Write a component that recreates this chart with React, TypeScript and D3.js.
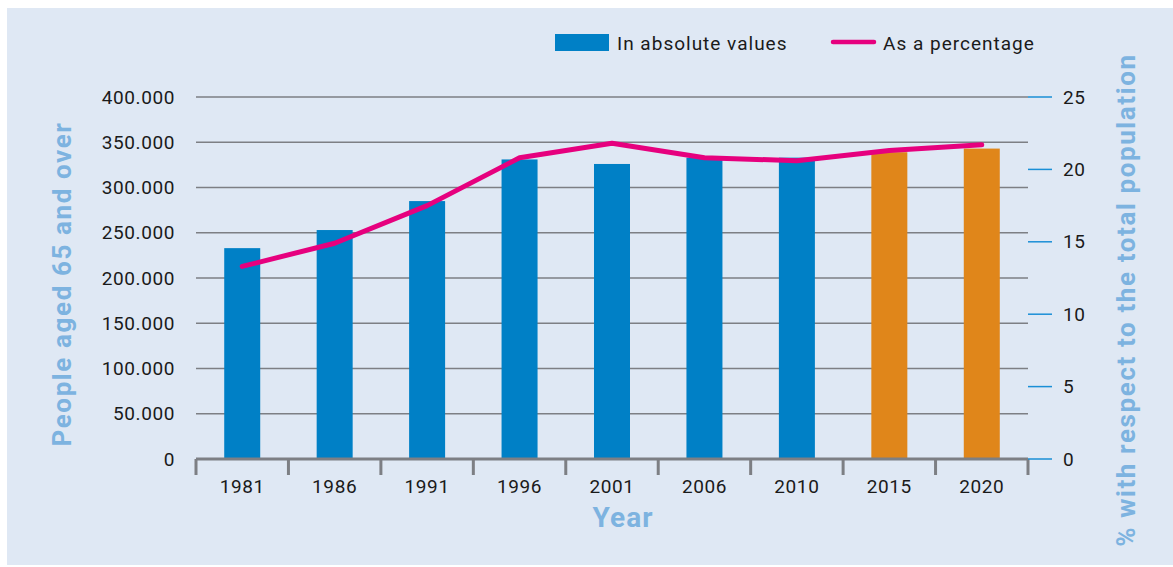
import React, { useEffect, useRef } from 'react';
import * as d3 from 'd3';

const years = ['1981', '1986', '1991', '1996', '2001', '2006', '2010', '2015', '2020'];
const absoluteValues = [233000, 253000, 285000, 331000, 326000, 333000, 333000, 339000, 343000];
const percentValues = [13.3, 14.9, 17.5, 20.8, 21.8, 20.8, 20.6, 21.3, 21.7];
const projected = ['2015', '2020'];
const leftTicks = [0, 50000, 100000, 150000, 200000, 250000, 300000, 350000, 400000];
const rightTicks = [0, 5, 10, 15, 20, 25];

const W = 1173;
const H = 567;
const margin = { top: 97, right: 145, bottom: 108, left: 196 };
const FONT = 'Roboto, "DejaVu Sans", sans-serif';

function fmtThousands(v: number) {
  if (v === 0) return '0';
  return d3.format(',')(v).replace(/,/g, '.');
}

export default function App() {
  const ref = useRef<SVGSVGElement>(null);

  useEffect(() => {
    const svg = d3.select(ref.current);
    svg.selectAll('*').remove();

    const width = W - margin.left - margin.right;
    const height = H - margin.top - margin.bottom;

    svg.append('rect')
      .attr('x', 7).attr('y', 8)
      .attr('width', W - 7).attr('height', H - 10)
      .attr('fill', '#dfe8f4');

    const g = svg.append('g')
      .attr('transform', 'translate(' + margin.left + ',' + margin.top + ')');

    const x = d3.scaleBand().domain(years).range([0, width]);
    const y = d3.scaleLinear().domain([0, 400000]).range([height, 0]);
    const y2 = d3.scaleLinear().domain([0, 25]).range([height, 0]);

    // gridlines
    g.selectAll('.grid')
      .data(leftTicks.slice(1))
      .enter().append('line')
      .attr('x1', 0).attr('x2', width)
      .attr('y1', d => y(d)).attr('y2', d => y(d))
      .attr('stroke', '#7d7f84').attr('stroke-width', 1.5);

    // left labels
    g.selectAll('.ylab')
      .data(leftTicks)
      .enter().append('text')
      .attr('x', -21).attr('y', d => y(d))
      .attr('dy', '0.35em')
      .attr('text-anchor', 'end')
      .style('font', '19px ' + FONT)
      .style('letter-spacing', '0.6px')
      .attr('fill', '#1a1a1a')
      .text(d => fmtThousands(d));

    // bars
    const barW = 36;
    g.selectAll('.bar')
      .data(years)
      .enter().append('rect')
      .attr('x', (d) => (x(d) as number) + x.bandwidth() / 2 - barW / 2)
      .attr('y', (d, i) => y(absoluteValues[i]))
      .attr('width', barW)
      .attr('height', (d, i) => height - y(absoluteValues[i]))
      .attr('fill', d => projected.includes(d) ? '#e0861a' : '#0080c6');

    // x axis
    g.append('line')
      .attr('x1', 0).attr('x2', width)
      .attr('y1', height).attr('y2', height)
      .attr('stroke', '#7d7f84').attr('stroke-width', 3);
    const bounds = years.map(d => x(d) as number).concat([width]);
    g.selectAll('.xtick')
      .data(bounds)
      .enter().append('line')
      .attr('x1', d => d).attr('x2', d => d)
      .attr('y1', height).attr('y2', height + 16)
      .attr('stroke', '#7d7f84').attr('stroke-width', 3);
    g.selectAll('.xlab')
      .data(years)
      .enter().append('text')
      .attr('x', d => (x(d) as number) + x.bandwidth() / 2)
      .attr('y', height + 34)
      .attr('text-anchor', 'middle')
      .style('font', '19px ' + FONT)
      .style('letter-spacing', '0.6px')
      .attr('fill', '#1a1a1a')
      .text(d => d);

    // right axis
    g.selectAll('.rtick')
      .data(rightTicks)
      .enter().append('line')
      .attr('x1', width).attr('x2', width + 24)
      .attr('y1', d => y2(d)).attr('y2', d => y2(d))
      .attr('stroke', '#1a8fd6').attr('stroke-width', 1.5);
    g.selectAll('.rlab')
      .data(rightTicks)
      .enter().append('text')
      .attr('x', width + 35).attr('y', d => y2(d))
      .attr('dy', '0.35em')
      .style('font', '19px ' + FONT)
      .style('letter-spacing', '0.6px')
      .attr('fill', '#1a1a1a')
      .text(d => d);

    // line
    const line = d3.line<number>()
      .x((d, i) => (x(years[i]) as number) + x.bandwidth() / 2)
      .y(d => y2(d));
    g.append('path')
      .datum(percentValues)
      .attr('d', line)
      .attr('fill', 'none')
      .attr('stroke', '#e6007e')
      .attr('stroke-width', 5)
      .attr('stroke-linejoin', 'round')
      .attr('stroke-linecap', 'round');

    // axis titles
    const titleColor = '#7db3e0';
    svg.append('text')
      .attr('transform', 'translate(71,284) rotate(-90)')
      .attr('text-anchor', 'middle')
      .style('font', 'bold 26px ' + FONT)
      .style('letter-spacing', '1.6px')
      .attr('fill', titleColor)
      .text('People aged 65 and over');
    svg.append('text')
      .attr('x', 623).attr('y', 527)
      .attr('text-anchor', 'middle')
      .style('font', 'bold 28px ' + FONT)
      .style('letter-spacing', '1px')
      .attr('fill', titleColor)
      .text('Year');
    svg.append('text')
      .attr('transform', 'translate(1135,300) rotate(-90)')
      .attr('text-anchor', 'middle')
      .style('font', 'bold 26px ' + FONT)
      .style('letter-spacing', '1.6px')
      .attr('fill', titleColor)
      .text('% with respect to the total population');

    // legend
    svg.append('rect')
      .attr('x', 555).attr('y', 34).attr('width', 54).attr('height', 17)
      .attr('fill', '#0080c6');
    svg.append('text')
      .attr('x', 617).attr('y', 43).attr('dy', '0.35em')
      .style('font', '19px ' + FONT)
      .style('letter-spacing', '1px')
      .attr('fill', '#1a1a1a')
      .text('In absolute values');
    svg.append('line')
      .attr('x1', 833).attr('x2', 874).attr('y1', 42).attr('y2', 42)
      .attr('stroke', '#e6007e').attr('stroke-width', 4.5)
      .attr('stroke-linecap', 'round');
    svg.append('text')
      .attr('x', 883).attr('y', 43).attr('dy', '0.35em')
      .style('font', '19px ' + FONT)
      .style('letter-spacing', '1px')
      .attr('fill', '#1a1a1a')
      .text('As a percentage');
  }, []);

  return (
    <svg ref={ref} width={W} height={H}
      style={{ position: 'absolute', left: 0, top: 0, background: '#fff' }} />
  );
}
